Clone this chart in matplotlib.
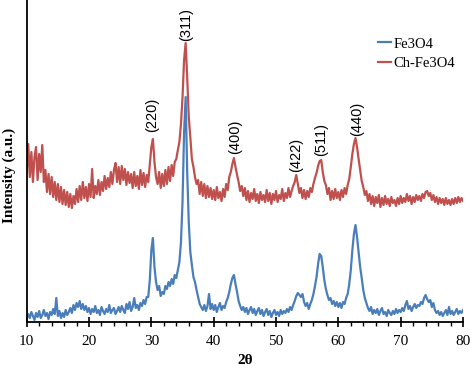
"""XRD patterns of Fe3O4 and chitosan-coated Fe3O4."""

import numpy as np
import matplotlib
matplotlib.use("Agg")
import matplotlib.pyplot as plt
from matplotlib.ticker import MultipleLocator

# scan grid, 2theta in degrees (0.25 deg step)
two_theta = np.linspace(10, 80, 281)

# Fe3O4 intensity (a.u.)
fe3o4 = [
    3, 8, 4, 10, 6, 2, 9, 5, 11, 4, 7, 12, 6, 9, 3, 10, 7, 13, 8, 24,
    6, 11, 4, 9, 5, 12, 7, 10, 14, 9, 17, 12, 19, 15, 21, 13, 18, 12, 16, 10,
    14, 8, 13, 10, 16, 9, 12, 7, 15, 11, 8, 13, 10, 17, 9, 12, 14, 8, 11, 15,
    10, 16, 12, 9, 18, 13, 20, 11, 15, 24, 14, 17, 12, 19, 16, 22, 18, 25, 25, 42,
    72, 84, 55, 40, 32, 36, 26, 30, 28, 36, 33, 40, 36, 43, 38, 47, 44, 52, 60, 80,
    120, 190, 225, 150, 100, 70, 57, 45, 40, 32, 25, 18, 15, 12, 17, 11, 16, 28, 13, 18,
    12, 17, 10, 15, 19, 12, 16, 14, 20, 24, 30, 38, 44, 47, 38, 30, 21, 16, 12, 15,
    10, 14, 8, 12, 15, 9, 13, 7, 11, 14, 8, 12, 6, 10, 13, 7, 11, 5, 9, 12,
    7, 10, 6, 12, 8, 11, 9, 13, 10, 15, 12, 17, 21, 26, 29, 27, 25, 28, 20, 16,
    19, 13, 18, 22, 28, 36, 45, 58, 68, 66, 55, 42, 33, 27, 22, 24, 18, 21, 16, 20,
    15, 19, 14, 20, 18, 24, 28, 38, 52, 72, 88, 97, 85, 70, 55, 44, 32, 24, 19, 14,
    11, 15, 8, 12, 9, 13, 7, 11, 14, 8, 10, 6, 12, 9, 7, 11, 8, 13, 9, 12,
    10, 14, 11, 17, 21, 13, 16, 11, 15, 18, 14, 17, 16, 20, 18, 24, 27, 23, 20, 22,
    15, 19, 12, 9, 11, 7, 10, 6, 9, 12, 7, 15, 8, 11, 7, 10, 13, 8, 11, 9,
    12,
]

# Ch-Fe3O4 intensity (a.u.), already offset upwards as in the figure
ch_fe3o4 = [
    150, 178, 145, 170, 140, 165, 175, 142, 168, 150, 177, 140, 152, 130, 148, 128, 145, 125, 140, 122,
    138, 120, 135, 118, 132, 117, 130, 115, 128, 114, 126, 118, 133, 120, 136, 122, 140, 124, 135, 121,
    138, 125, 153, 124, 136, 128, 142, 127, 140, 131, 146, 133, 144, 135, 150, 138, 152, 159, 140, 155,
    138, 156, 142, 153, 137, 150, 139, 148, 134, 150, 136, 146, 133, 152, 137, 149, 135, 147, 140, 158,
    175, 183, 160, 145, 138, 150, 134, 148, 136, 152, 138, 155, 141, 157, 146, 160, 163, 172, 180, 198,
    225, 262, 279, 245, 205, 185, 163, 155, 145, 138, 142, 128, 140, 126, 138, 124, 136, 125, 134, 123,
    132, 122, 135, 124, 130, 121, 133, 125, 138, 132, 145, 150, 158, 164, 155, 147, 140, 131, 136, 126,
    134, 122, 131, 120, 129, 123, 133, 121, 128, 119, 130, 122, 127, 120, 132, 121, 129, 118, 128, 122,
    131, 120, 127, 123, 133, 121, 129, 124, 134, 125, 131, 136, 140, 147, 138, 129, 134, 124, 132, 123,
    131, 125, 134, 130, 138, 144, 149, 156, 161, 162, 150, 141, 137, 128, 134, 122, 131, 123, 133, 124,
    130, 122, 132, 125, 134, 128, 137, 143, 155, 168, 178, 184, 175, 163, 152, 141, 135, 127, 131, 121,
    128, 118, 126, 116, 125, 119, 127, 115, 124, 117, 126, 118, 123, 116, 125, 119, 122, 116, 124, 118,
    126, 119, 124, 120, 128, 121, 126, 118, 125, 120, 127, 122, 126, 121, 128, 124, 130, 131, 126, 129,
    122, 127, 120, 125, 118, 124, 119, 123, 117, 124, 118, 122, 117, 123, 118, 124, 119, 125, 120, 124,
    121,
]

# Miller indices and where their labels sit
hkl_labels = ["(220)", "(311)", "(400)", "(422)", "(511)", "(440)"]
hkl_pos = [30.15, 35.65, 43.4, 53.3, 57.2, 62.95]
hkl_height = [190, 281, 168, 150, 166, 186]

plt.rcParams["font.family"] = ["Liberation Serif", "DejaVu Serif"]

fig = plt.figure(figsize=(4.74, 3.68), dpi=100)
ax = fig.add_axes([26.7 / 474, 46 / 368, (463 - 26.7) / 474, 322 / 368])

ax.plot(two_theta, ch_fe3o4, color="#c0504d", lw=1.6, label="Ch-Fe3O4")
ax.plot(two_theta, fe3o4, color="#4a7ebb", lw=1.6, label="Fe3O4")

for lab, x, y in zip(hkl_labels, hkl_pos, hkl_height):
    ax.text(x, y, lab, rotation=90, ha="center", va="bottom",
            fontsize=10.5, family=["Liberation Sans", "DejaVu Sans"])

ax.set_xlim(10, 80)
ax.set_ylim(0, 322)
ax.xaxis.set_major_locator(MultipleLocator(10))
ax.xaxis.set_minor_locator(MultipleLocator(2))
ax.tick_params(axis="x", which="major", direction="inout", length=7, width=1.2,
               labelsize=11, pad=6)
ax.tick_params(axis="x", which="minor", direction="out", length=3, width=1)
ax.set_yticks([])
for side in ("top", "right"):
    ax.spines[side].set_visible(False)
for side in ("left", "bottom"):
    ax.spines[side].set_linewidth(1.3)

ax.set_xlabel("2θ", fontweight="bold", fontsize=11, labelpad=4)
ax.set_ylabel("Intensity (a.u.)", fontweight="bold", fontsize=11)
ax.yaxis.set_label_coords(-0.024, 0.455)

handles, labels = ax.get_legend_handles_labels()
fig.legend(handles[::-1], labels[::-1], loc="upper left",
           bbox_to_anchor=(371 / 474, 1 - 30 / 368), frameon=False,
           fontsize=10.5, handlelength=0.9, handletextpad=0.15,
           borderpad=0, labelspacing=0.45)

fig.savefig("out.png", dpi=100)
